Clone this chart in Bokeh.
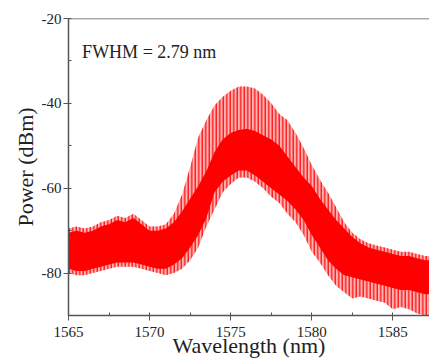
from bokeh.plotting import figure
from bokeh.models import Range1d, SingleIntervalTicker, Span, Label, PrintfTickFormatter
from bokeh.embed import file_html
from bokeh.resources import INLINE

wavelength = [1565.0, 1565.5, 1566.0, 1566.5, 1567.0, 1567.5, 1568.0, 1568.5, 1569.0, 1569.5,
              1570.0, 1570.5, 1571.0, 1571.5, 1572.0, 1572.5, 1573.0, 1573.5, 1574.0, 1574.5,
              1575.0, 1575.5, 1576.0, 1576.5, 1577.0, 1577.5, 1578.0, 1578.5, 1579.0, 1579.5,
              1580.0, 1580.5, 1581.0, 1581.5, 1582.0, 1582.5, 1583.0, 1583.5, 1584.0, 1584.5,
              1585.0, 1585.5, 1586.0, 1586.5, 1587.0, 1587.5]

# upper envelope of the fringe spikes (dBm)
spike_top = [-69.5, -69.0, -69.5, -69.0, -68.0, -67.5, -66.5, -67.0, -66.0, -67.5,
             -69.0, -69.0, -68.5, -66.0, -61.5, -55.0, -48.0, -44.0, -40.5, -38.5,
             -37.0, -36.0, -36.0, -36.5, -38.0, -40.0, -42.5, -44.0, -47.0, -50.5,
             -54.5, -58.0, -61.0, -64.5, -68.0, -70.5, -72.0, -73.0, -73.5, -74.0,
             -74.5, -75.0, -75.0, -75.5, -76.0, -76.0]
# lower envelope of the fringe spikes (dBm)
spike_bot = [-80.0, -80.5, -80.5, -80.0, -79.5, -79.0, -78.5, -78.5, -78.5, -79.0,
             -79.5, -80.0, -80.5, -80.0, -79.0, -77.0, -74.0, -69.0, -65.0, -61.0,
             -59.0, -57.5, -57.5, -58.5, -60.0, -62.0, -63.5, -66.0, -68.0, -71.0,
             -75.0, -77.5, -80.5, -83.0, -84.5, -86.0, -85.5, -86.0, -86.5, -87.0,
             -88.5, -88.0, -88.5, -89.5, -90.0, -90.0]
# dense core band (dBm)
core_top = [-70.5, -70.0, -70.5, -70.0, -69.0, -68.5, -67.5, -68.0, -67.0, -68.5,
            -70.0, -70.0, -69.5, -68.0, -65.5, -62.5, -59.5, -56.0, -51.5, -48.5,
            -47.0, -46.3, -46.0, -46.5, -47.5, -48.5, -50.0, -52.5, -55.0, -57.5,
            -59.5, -62.5, -65.0, -67.5, -69.5, -71.5, -73.0, -74.0, -74.5, -75.0,
            -75.5, -76.0, -76.0, -76.5, -77.0, -77.0]
core_bot = [-79.0, -79.5, -79.5, -79.0, -78.5, -78.0, -77.5, -77.5, -77.5, -78.0,
            -78.5, -79.0, -79.0, -78.0, -76.5, -74.0, -71.0, -67.0, -61.0, -58.5,
            -57.0, -55.8, -55.8, -57.0, -58.5, -60.0, -61.5, -63.0, -65.0, -67.5,
            -71.0, -74.0, -77.0, -79.0, -80.5, -81.0, -81.5, -82.0, -82.5, -83.0,
            -83.5, -84.0, -84.0, -84.5, -85.0, -85.0]

FONT = "Liberation Serif"
AX = "#555555"

p = figure(width=429, height=360, output_backend="svg", toolbar_location=None,
           x_range=Range1d(1565, 1587.26), y_range=Range1d(-90, -20),
           min_border_left=68, min_border_right=0, min_border_top=18, min_border_bottom=43)
p.outline_line_color = None
p.grid.grid_line_color = None
p.background_fill_color = "white"

p.varea(x=wavelength, y1=spike_bot, y2=spike_top, fill_color="#ff0000", fill_alpha=0.3,
        hatch_pattern="vertical_line", hatch_color="#ff0000", hatch_scale=3.5, hatch_weight=1.2)
p.varea(x=wavelength, y1=core_bot, y2=core_top, fill_color="#ff0000")

p.xaxis.ticker = SingleIntervalTicker(interval=5, num_minor_ticks=2)
p.yaxis.ticker = SingleIntervalTicker(interval=20, num_minor_ticks=2)
p.yaxis.formatter = PrintfTickFormatter(format="%d")
for ax in (p.xaxis, p.yaxis):
    ax.axis_line_color = AX
    ax.axis_line_width = 1.5
    ax.major_tick_line_color = AX
    ax.minor_tick_line_color = AX
    ax.major_tick_out = 5
    ax.major_tick_in = 0
    ax.minor_tick_out = 0
    ax.minor_tick_in = 3
    ax.major_label_text_font = FONT
    ax.major_label_text_font_size = "15px"
    ax.major_label_text_color = "#222222"
    ax.axis_label_text_font = FONT
    ax.axis_label_text_font_size = "22px"
    ax.axis_label_text_font_style = "normal"
    ax.axis_label_text_color = "#222222"
p.xaxis.major_label_standoff = 6
p.xaxis.axis_label_standoff = -7
p.yaxis.major_label_standoff = 2
p.yaxis.axis_label_standoff = 1
p.xaxis.axis_label = "Wavelength (nm)"
p.yaxis.axis_label = "Power (dBm)"

p.add_layout(Span(location=-20, dimension="width", line_color=AX, line_width=1.5))
p.add_layout(Label(x=1565.84, y=-28.0, text="FWHM = 2.79 nm", text_font=FONT,
                   text_font_size="18px", text_color="#222222", text_baseline="alphabetic"))

open("out.html", "w").write(file_html(p, INLINE))
